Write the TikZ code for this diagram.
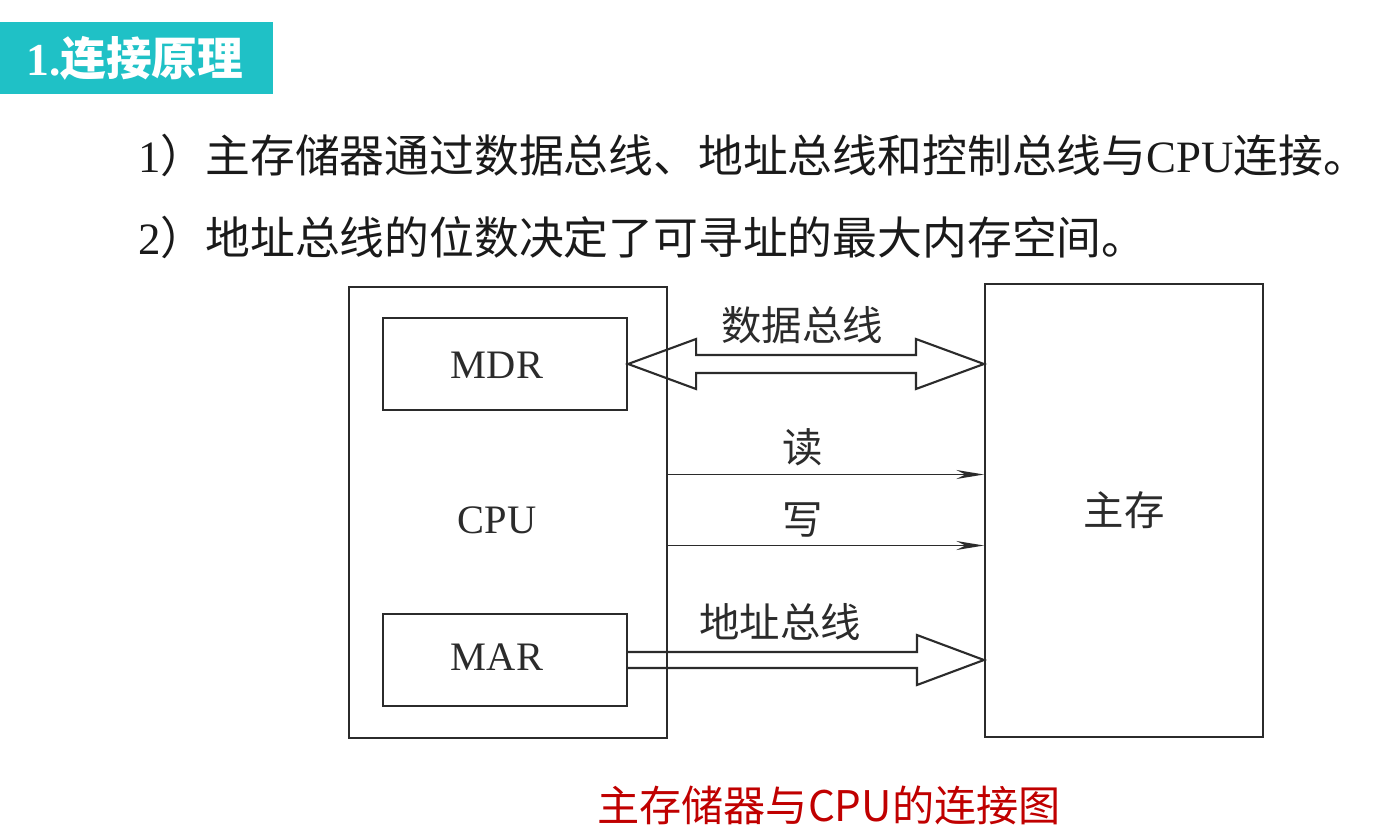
\documentclass[tikz,border=0pt]{standalone}
\usepackage{fontspec}
\setmainfont{Liberation Serif}
\newfontfamily\cjk{Noto Sans CJK SC}
\usetikzlibrary{arrows.meta, positioning, calc}
\definecolor{bannerteal}{HTML}{1FC1C6}
\definecolor{inkgray}{HTML}{2B2B2B}
\definecolor{textblack}{HTML}{1A1A1A}
\definecolor{capred}{HTML}{C00000}

\begin{document}
\begin{tikzpicture}[x=0.2mm, y=-0.2mm,
  box/.style={draw=inkgray, line width=1.2pt, inner sep=0pt},
  lbl/.style={text=inkgray, font=\fontsize{23}{26}\selectfont},
  bus/.style={draw=inkgray, line width=1.2pt, line join=miter},
  sig/.style={draw=inkgray, line width=1.1pt, -{Stealth[length=5.5mm, width=1.8mm]}}]

% Page
\useasboundingbox (0,0) rectangle (1387,831);
\fill[white] (0,0) rectangle (1387,831);

% Banner
\fill[bannerteal] (0,22) rectangle (273,94);
\node[text=white, font=\fontsize{26}{30}\selectfont\bfseries, anchor=west] (title)
  at (20,58) {1.{\cjk 连接原理}};

% Points
\node[text=textblack, font=\fontsize{25.5}{30}\selectfont, anchor=west] (pt1)
  at (132,155) {1{\cjk ）主存储器通过数据总线、地址总线和控制总线与}CPU{\cjk 连接。}};
\node[text=textblack, font=\fontsize{25.5}{30}\selectfont, anchor=west] (pt2)
  at (132,237) {2{\cjk ）地址总线的位数决定了可寻址的最大内存空间。}};

% Boxes
\node[box, minimum width=6.36cm, minimum height=9.02cm] (cpu) at (508,512.5) {};
\node[lbl] (cpulbl) at (497,520) {CPU};
\node[box, minimum width=4.88cm, minimum height=1.84cm] (mdr) at (505,364) {};
\node[lbl] (mdrlbl) at (497,365) {MDR};
\node[box, minimum width=4.88cm, minimum height=1.84cm] (mar) at (505,660) {};
\node[lbl] (marlbl) at (497,657) {MAR};
\node[box, lbl, minimum width=5.56cm, minimum height=9.06cm] (mem) at (1124,510.5) {{\cjk 主存}};

% Data bus
\coordinate (dL) at (mdr.east);
\coordinate (dR) at (mdr.east -| mem.west);
\draw[bus] (dL) -- ++(68,-25) -- ++(0,16) -- ($(dR)+(-68,-9)$) -- ++(0,-16) -- (dR)
  -- ++(-68,25) -- ++(0,-16) -- ($(dL)+(68,9)$) -- ++(0,16) -- cycle;
\node[lbl] (dbus) at (802,325) {\cjk 数据总线};

% Read / write
\draw[sig] ($(cpu.east)+(0,-38)$) -- ($(mem.west)+(0,-36)$);
\node[lbl] (rd) at (803,447) {\cjk 读};
\draw[sig] ($(cpu.east)+(0,33)$) -- ($(mem.west)+(0,35)$);
\node[lbl] (wr) at (803,520) {\cjk 写};

% Address bus
\coordinate (aL) at (mar.east);
\coordinate (aR) at (mar.east -| mem.west);
\draw[bus] ($(aL)+(0,-8)$) -- ($(aR)+(-67,-8)$) -- ++(0,-17) -- (aR) -- ++(-67,25)
  -- ++(0,-17) -- ($(aL)+(0,8)$);
\node[lbl] (abus) at (780,622) {\cjk 地址总线};

% Caption
\node[text=capred, font=\fontsize{24}{28}\selectfont] (cap) at (829,805)
  {\cjk 主存储器与CPU的连接图};

\end{tikzpicture}
\end{document}
